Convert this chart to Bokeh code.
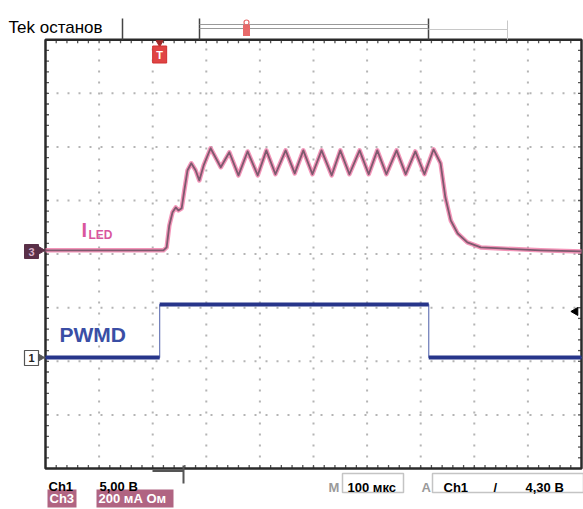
import numpy as np
from bokeh.plotting import figure
from bokeh.models import Range1d
from bokeh.core.properties import value
from bokeh.embed import file_html
from bokeh.resources import INLINE

# ---------------- scope settings ----------------
time_per_div = 100.0      # 100 мкс / div
n_xdiv = 10
n_ydiv = 8

# Channel 1 : PWMD, 5 V/div, ground marker at 2.07 div
ch1_scale = 5.0
ch1_offset = 2.07
pwmd_t = [0, 213, 213, 715, 715, 1000]           # мкс
pwmd_v = [0.0, 0.0, 4.95, 4.95, 0.0, 0.0]        # В

# Channel 3 : I_LED, 200 mA/div, zero marker at 4.07 div
ch3_scale = 200.0
ch3_offset = 4.07
iled_t = [0, 220, 226, 231, 237, 243, 248, 254, 259, 265, 272, 280, 287, 295,
          308, 327, 343, 360, 377, 396, 412, 429, 448, 465, 481, 498, 515,
          534, 550, 567, 586, 603, 619, 636, 655, 672, 690, 707, 724,
          737, 746, 756, 769, 787, 812, 849, 924, 1000]
iled_ma = [0, 0, 11, 93, 142, 160, 149, 157, 224, 299, 325, 299, 261, 317,
           381, 310, 366, 280, 369, 280, 373, 284, 373, 287, 373, 284, 373,
           280, 373, 284, 373, 284, 373, 284, 373, 284, 369, 284, 377,
           325, 198, 112, 63, 30, 11, 7, 0, -4]

trigger_level = 4.30   # В on Ch1
trigger_time = 213     # мкс

# ---------------- helpers (canvas pixel -> data) ----------------
W, H = 583, 509
PX_PER_DIV = 53.6
X0, Y0 = 45, 468          # graticule bottom-left on the canvas
def dx(px):
    return (px - X0) / PX_PER_DIV * time_per_div
def dy(py):
    return (Y0 - py) / PX_PER_DIV
def lx(n):                # n pixels as x data length
    return n / PX_PER_DIV * time_per_div
def ly(n):
    return n / PX_PER_DIV

pwmd_div = ch1_offset + np.array(pwmd_v) / ch1_scale
iled_div = ch3_offset + np.array(iled_ma) / ch3_scale

p = figure(width=W, height=H, output_backend="svg", toolbar_location=None,
           x_range=Range1d(dx(0), dx(W)), y_range=Range1d(dy(H), dy(0)),
           x_axis_type=None, y_axis_type=None, min_border=0)
p.outline_line_color = None
p.grid.visible = False
p.background_fill_color = "white"
p.border_fill_color = "white"

XMAX = n_xdiv * time_per_div
YMAX = float(n_ydiv)

# graticule dotted grid
xt = [time_per_div * i for i in range(1, n_xdiv)]
yt = [float(i) for i in range(1, n_ydiv)]
p.segment(x0=xt, y0=[0] * len(xt), x1=xt, y1=[YMAX] * len(xt),
          line_color="#b4b4b4", line_width=2, line_dash="2 9")
p.segment(x0=[0] * len(yt), y0=yt, x1=[XMAX] * len(yt), y1=yt,
          line_color="#b4b4b4", line_width=2, line_dash="2 9")

# border ticks (inward)
xmin = [time_per_div * i / 5 for i in range(1, n_xdiv * 5)]
ymin = [i / 5 for i in range(1, n_ydiv * 5)]
tk = 3.5
p.segment(x0=xmin, y0=[0] * len(xmin), x1=xmin, y1=[ly(tk)] * len(xmin),
          line_color="#555", line_width=1.3)
p.segment(x0=xmin, y0=[YMAX] * len(xmin), x1=xmin, y1=[YMAX - ly(tk)] * len(xmin),
          line_color="#555", line_width=1.3)
p.segment(x0=[0] * len(ymin), y0=ymin, x1=[lx(tk)] * len(ymin), y1=ymin,
          line_color="#555", line_width=1.3)
p.segment(x0=[XMAX] * len(ymin), y0=ymin, x1=[XMAX - lx(tk)] * len(ymin), y1=ymin,
          line_color="#555", line_width=1.3)

# graticule border
p.quad(left=[0], right=[XMAX], bottom=[0], top=[YMAX], fill_color=None,
       line_color="#2a2a2a", line_width=2.5)

# traces
p.line(iled_t, iled_div, line_color="#f07aa8", line_width=4.5, line_alpha=0.8,
       line_join="round")
p.line(iled_t, iled_div, line_color="#7d5a6e", line_width=1.8, line_join="round")

p.line(pwmd_t, pwmd_div, line_color="#6a78b8", line_width=1.2)
lv_t = [pwmd_t[0], pwmd_t[1], np.nan, pwmd_t[2], pwmd_t[3], np.nan, pwmd_t[4], pwmd_t[5]]
lv_y = [pwmd_div[0], pwmd_div[1], np.nan, pwmd_div[2], pwmd_div[3], np.nan,
        pwmd_div[4], pwmd_div[5]]
p.line(lv_t, lv_y, line_color="#27358a", line_width=4)

# trigger position marker under top border
p.scatter(x=[trigger_time], y=[YMAX - ly(3)], marker="inverted_triangle", size=7,
          fill_color="#a02828", line_color="#a02828")
p.rect(x=[trigger_time], y=[dy(54)], width=lx(14), height=ly(17),
       fill_color="#e04444", line_color="#d03030")
p.text(x=[trigger_time], y=[dy(54)], text=["T"], text_color="white",
       text_font=value("Liberation Sans"), text_font_size="11px",
       text_font_style="bold", text_align="center", text_baseline="middle")

# trigger level arrow (right)
p.scatter(x=[XMAX - lx(6)], y=[ch1_offset + trigger_level / ch1_scale],
          marker="triangle", angle=np.pi / 2, size=8,
          fill_color="black", line_color="black")

# ---------------- top record bar ----------------
p.segment(x0=[dx(122), dx(199), dx(428)], y0=[dy(18)] * 3,
          x1=[dx(122), dx(199), dx(428)], y1=[YMAX] * 3,
          line_color="#444", line_width=1.5)
p.segment(x0=[dx(199), dx(199)], y0=[dy(24), dy(28)],
          x1=[dx(428), dx(428)], y1=[dy(24), dy(28)],
          line_color="#999", line_width=1)
p.segment(x0=[dx(428), dx(507)], y0=[dy(29), dy(20)],
          x1=[dx(507), dx(507)], y1=[dy(29), YMAX],
          line_color="#c8c8c8", line_width=1)
p.rect(x=[dx(246)], y=[dy(30)], width=lx(7), height=ly(11),
       fill_color="#e86a6a", line_color=None)
p.scatter(x=[dx(246)], y=[dy(22)], marker="circle", size=5,
          fill_color=None, line_color="#e86a6a", line_width=1.2)

p.text(x=[dx(8)], y=[dy(27)], text=["Tek останов"], text_color="black",
       text_font=value("Liberation Sans"), text_font_size="17px",
       text_baseline="alphabetic")

# ---------------- channel markers ----------------
p.quad(left=[dx(24)], right=[dx(38)], bottom=[dy(258)], top=[dy(244)],
       fill_color="#5a3048", line_color="#5a3048")
p.scatter(x=[dx(40)], y=[ch3_offset], marker="triangle", angle=-np.pi / 2, size=8,
          fill_color="#5a3048", line_color="#5a3048")
p.text(x=[dx(31)], y=[dy(251)], text=["3"], text_color="#d8b0c8",
       text_font=value("Liberation Sans"), text_font_size="11px",
       text_font_style="bold", text_align="center", text_baseline="middle")

p.quad(left=[dx(24)], right=[dx(38)], bottom=[dy(365)], top=[dy(350)],
       fill_color="white", line_color="#555", line_width=1.2)
p.scatter(x=[dx(40)], y=[ch1_offset], marker="triangle", angle=-np.pi / 2, size=7,
          fill_color="#555", line_color="#555")
p.text(x=[dx(31)], y=[dy(357.5)], text=["1"], text_color="#222",
       text_font=value("Liberation Sans"), text_font_size="11px",
       text_font_style="bold", text_align="center", text_baseline="middle")

# ---------------- trace labels ----------------
p.text(x=[dx(81)], y=[dy(229)], text=["I"], text_color="#d9569e",
       text_font=value("Liberation Sans"), text_font_size="20px",
       text_font_style="bold", text_baseline="alphabetic")
p.text(x=[dx(88)], y=[dy(234)], text=["LED"], text_color="#d9569e",
       text_font=value("Liberation Sans"), text_font_size="12px",
       text_font_style="bold", text_baseline="alphabetic")
p.text(x=[dx(59)], y=[dy(334)], text=["PWMD"], text_color="#3a4ea5",
       text_font=value("Liberation Sans"), text_font_size="21px",
       text_font_style="bold", text_baseline="alphabetic")

# ---------------- bottom status line ----------------
# trigger position indicator under graticule
p.segment(x0=[dx(152), dx(183)], y0=[dy(470.5), dy(465)],
          x1=[dx(183), dx(183)], y1=[dy(470.5), dy(483)],
          line_color="#555", line_width=2)

# boxes
p.quad(left=[dx(47), dx(96)], right=[dx(76), dx(173)],
       bottom=[dy(507)] * 2, top=[dy(489)] * 2,
       fill_color="#b06482", line_color=None)
p.quad(left=[dx(342), dx(432)], right=[dx(403), dx(583)],
       bottom=[dy(492)] * 2, top=[dy(473)] * 2,
       fill_color="white", line_color="#c4c4c4", line_width=1.5)

stat_x = [dx(48), dx(99), dx(347), dx(443), dx(493), dx(525)]
stat_y = [dy(486), dy(486), dy(487), dy(487), dy(487), dy(487)]
stat_t = ["Ch1", "5,00 В", "100 мкс", "Ch1", "/", "4,30 В"]
p.text(x=stat_x, y=stat_y, text=stat_t, text_color="black",
       text_font=value("Liberation Sans"), text_font_size="13px",
       text_font_style="bold", text_baseline="alphabetic")
p.text(x=[dx(49), dx(98)], y=[dy(498)] * 2, text=["Ch3", "200 мА Ом"],
       text_color="white", text_font=value("Liberation Sans"),
       text_font_size="13px", text_font_style="bold", text_baseline="middle")
p.text(x=[dx(328), dx(421)], y=[dy(487)] * 2, text=["M", "A"], text_color="#9a9a9a",
       text_font=value("Liberation Sans"), text_font_size="13px",
       text_font_style="bold", text_baseline="alphabetic")

open("out.html", "w").write(file_html(p, INLINE))
